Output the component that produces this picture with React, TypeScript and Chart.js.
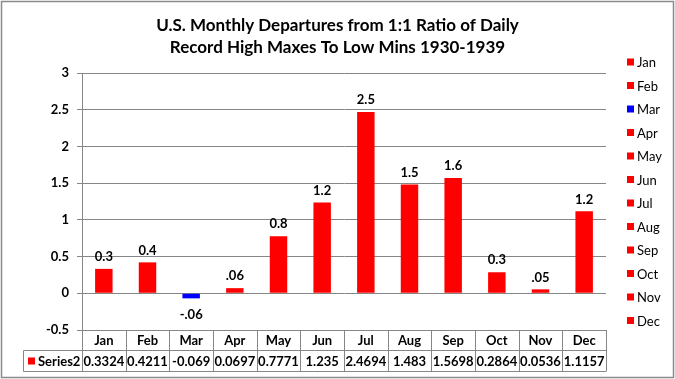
import React, { useEffect, useRef } from "react";
import { Chart, registerables } from "chart.js";

Chart.register(...registerables);

const titleLines = [
  "U.S. Monthly Departures from 1:1 Ratio of Daily",
  "Record High Maxes To Low Mins 1930-1939",
];
const months = ["Jan", "Feb", "Mar", "Apr", "May", "Jun", "Jul", "Aug", "Sep", "Oct", "Nov", "Dec"];
const values = [0.3324, 0.4211, -0.069, 0.0697, 0.7771, 1.235, 2.4694, 1.483, 1.5698, 0.2864, 0.0536, 1.1157];
const tableValues = ["0.3324", "0.4211", "-0.069", "0.0697", "0.7771", "1.235", "2.4694", "1.483", "1.5698", "0.2864", "0.0536", "1.1157"];
const dataLabels = ["0.3", "0.4", "-.06", ".06", "0.8", "1.2", "2.5", "1.5", "1.6", "0.3", ".05", "1.2"];
const seriesName = "Series2";
const yMin = -0.5;
const yMax = 3;
const yStep = 0.5;

const RED = "#FF0000";
const BLUE = "#0000FF";
const GRID = "#868686";
const FONT = "Lato, 'Open Sans', sans-serif";

const barColors = values.map((v) => (v < 0 ? BLUE : RED));

const overlayPlugin = {
  id: "overlay",
  afterDraw(chart: any) {
    const ctx = chart.ctx as CanvasRenderingContext2D;
    const W = chart.width;
    const H = chart.height;
    const xs = chart.scales.x;
    const area = chart.chartArea;
    ctx.save();

    // outer frame
    ctx.strokeStyle = "#8a8a8a";
    ctx.lineWidth = 1.5;
    ctx.strokeRect(1.5, 1.5, W - 3, H - 3);

    // title
    ctx.fillStyle = "#000";
    ctx.font = `bold 17px ${FONT}`;
    ctx.textAlign = "center";
    ctx.textBaseline = "middle";
    titleLines.forEach((t, i) => ctx.fillText(t, W / 2, 26 + i * 22));

    // data labels
    const meta = chart.getDatasetMeta(0);
    ctx.font = `bold 13px ${FONT}`;
    meta.data.forEach((el: any, i: number) => {
      const v = values[i];
      const y = v >= 0 ? el.y - 12 : el.y + 16;
      ctx.fillText(dataLabels[i], el.x, y);
    });

    // data table
    const colW = (xs.right - xs.left) / months.length;
    const top = area.bottom;
    const r1 = top + 20;
    const r2 = r1 + 21;
    const labelLeft = 23.5;
    ctx.strokeStyle = GRID;
    ctx.lineWidth = 1;
    ctx.beginPath();
    ctx.moveTo(xs.left, Math.round(top) + 0.5);
    ctx.lineTo(xs.right, Math.round(top) + 0.5);
    ctx.moveTo(labelLeft, r1 + 0.5);
    ctx.lineTo(xs.right, r1 + 0.5);
    ctx.moveTo(labelLeft, r2 + 0.5);
    ctx.lineTo(xs.right, r2 + 0.5);
    ctx.moveTo(labelLeft, r1 + 0.5);
    ctx.lineTo(labelLeft, r2 + 0.5);
    for (let i = 0; i <= months.length; i++) {
      const x = Math.round(xs.left + i * colW) + 0.5;
      ctx.moveTo(x, top);
      ctx.lineTo(x, r2 + 0.5);
    }
    ctx.stroke();

    ctx.fillStyle = "#000";
    ctx.font = `bold 13px ${FONT}`;
    ctx.textAlign = "center";
    months.forEach((m, i) => {
      const cx = xs.left + (i + 0.5) * colW;
      ctx.fillText(m, cx, (top + r1) / 2 + 1);
      ctx.fillText(tableValues[i], cx, (r1 + r2) / 2 + 1);
    });
    ctx.fillStyle = RED;
    ctx.fillRect(28, (r1 + r2) / 2 - 3, 7, 7);
    ctx.fillStyle = "#000";
    ctx.textAlign = "left";
    ctx.fillText(seriesName, 38, (r1 + r2) / 2 + 1);

    // legend
    ctx.font = `13px ${FONT}`;
    months.forEach((m, i) => {
      const cy = 62 + i * 23.5;
      ctx.fillStyle = barColors[i];
      ctx.fillRect(627, cy - 3.5, 7, 7);
      ctx.fillStyle = "#000";
      ctx.fillText(m, 637, cy + 1);
    });

    ctx.restore();
  },
};

export default function App() {
  const ref = useRef<HTMLCanvasElement>(null);

  useEffect(() => {
    const canvas = ref.current;
    if (!canvas) return;
    const chart = new Chart(canvas, {
      type: "bar",
      data: {
        labels: months,
        datasets: [
          {
            label: seriesName,
            data: values,
            backgroundColor: barColors,
            borderWidth: 0,
            barPercentage: 0.4,
            categoryPercentage: 1,
          },
        ],
      },
      options: {
        responsive: false,
        animation: false,
        devicePixelRatio: 1,
        layout: { padding: { top: 73, bottom: 49, left: 0, right: 69 } },
        plugins: {
          legend: { display: false },
          title: { display: false },
          tooltip: { enabled: false },
        },
        scales: {
          x: {
            display: false,
          },
          y: {
            min: yMin,
            max: yMax,
            ticks: {
              stepSize: yStep,
              padding: 8,
              color: "#000",
              font: { family: FONT, size: 13, weight: "bold" },
              callback: (v: any) => String(Number(v)),
            },
            grid: { color: GRID, tickLength: 5, lineWidth: 1 },
            border: { color: GRID, width: 1 },
            afterFit: (s: any) => {
              s.width = 82;
            },
          },
        },
      },
      plugins: [overlayPlugin],
    });
    return () => chart.destroy();
  }, []);

  return (
    <div style={{ position: "fixed", left: 0, top: 0, width: 675, height: 379, background: "#fff" }}>
      <canvas ref={ref} width={675} height={379} />
    </div>
  );
}
